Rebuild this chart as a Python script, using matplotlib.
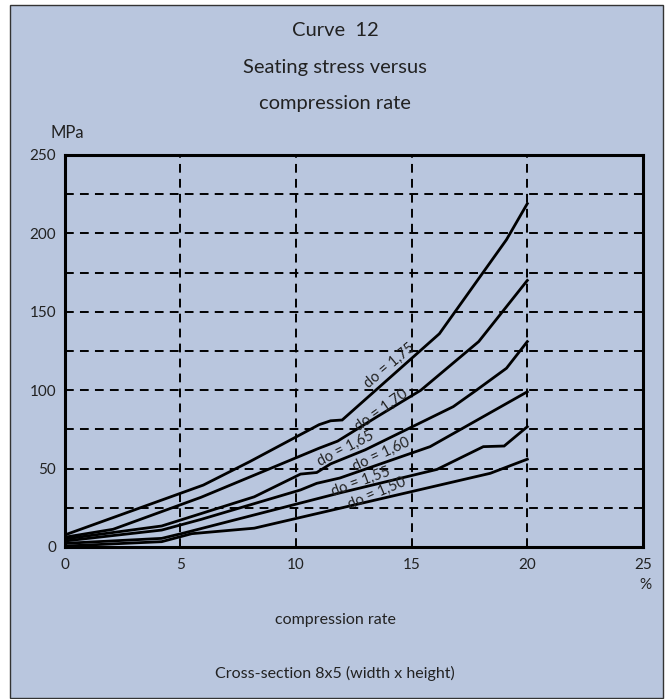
import matplotlib
matplotlib.use("Agg")
import matplotlib.pyplot as plt
from matplotlib.patches import Rectangle

plt.rcParams['font.family'] = ['Lato', 'DejaVu Sans']

# ---- data ----
x175 = [0, 6, 8, 11, 11.5, 12, 16.2, 19.1, 20]
y175 = [7.6, 39.5, 54.4, 78, 80.5, 81, 136, 196, 219]

x170 = [0, 2.1, 5.9, 11.0, 11.8, 13.5, 15.4, 17.9, 20]
y170 = [6.2, 11.3, 31.7, 63, 67.5, 83, 100, 131, 170]

x165 = [0, 4.2, 8.2, 10.2, 10.9, 11.5, 13.0, 16.8, 17.8, 19.1, 20]
y165 = [5.1, 13.4, 32, 46.5, 47.5, 53, 62, 89.5, 100, 114, 131]

x160 = [0, 4.2, 5.9, 10.2, 10.9, 11.9, 15.8, 20]
y160 = [3.8, 10.8, 17.6, 36.4, 40.6, 44, 64, 99]

x155 = [0, 4.2, 5.1, 11.9, 16.1, 18.1, 19.0, 20]
y155 = [2.3, 5.5, 8.7, 34.5, 49.5, 64, 64.4, 76.7]

x150 = [0, 4.2, 5.5, 8.2, 18.4, 20]
y150 = [0.6, 3.4, 8.5, 12, 47, 56]

series = [(x175, y175), (x170, y170), (x165, y165),
          (x160, y160), (x155, y155), (x150, y150)]

labels = ["do = 1,75", "do = 1,70", "do = 1,65", "do = 1,60", "do = 1,55", "do = 1,50"]
label_x = [14.05, 13.7, 12.15, 13.7, 12.8, 13.5]
label_y = [115.4, 87.4, 63.0, 59.3, 41.7, 34.2]
label_rot = [40, 35.5, 27, 25, 20, 23]

xticks = [0, 5, 10, 15, 20, 25]
yticks = [0, 50, 100, 150, 200, 250]
ygrid = [25, 75, 125, 175, 225]

title_lines = ["Curve  12", "Seating stress versus", "compression rate"]
ylabel = "MPa"
xlabel = "compression rate"
unit_x = "%"
footer = "Cross-section 8x5 (width x height)"

bg = "#B9C6DE"
txt = "#222222"

W, H = 669, 699
fig = plt.figure(figsize=(W / 100, H / 100), dpi=100)
fig.patch.set_facecolor("white")

# panel
fig.patches.append(Rectangle((10 / W, 1 - 698 / H), 653 / W, 693 / H,
                             transform=fig.transFigure, facecolor=bg,
                             edgecolor="#333333", linewidth=1.0, zorder=-10))

ax = fig.add_axes([64.5 / W, 1 - 547 / H, (643 - 64.5) / W, (547 - 155) / H])
ax.set_zorder(1)
ax.set_facecolor(bg)
ax.set_xlim(0, 25)
ax.set_ylim(0, 250)
ax.set_xticks(xticks)
ax.set_yticks(yticks)
ax.set_yticks(ygrid, minor=True)
ax.set_xticklabels([str(v) for v in xticks])
ax.set_yticklabels([str(v) for v in yticks])
ax.tick_params(axis='both', which='both', length=0, labelsize=11, colors=txt)
ax.tick_params(axis='x', pad=8)
ax.tick_params(axis='y', pad=6)
dash = (0, (4.5, 3.2))
ax.grid(True, which='major', axis='x', color='black', linewidth=1.4, linestyle=dash)
ax.grid(True, which='both', axis='y', color='black', linewidth=1.4, linestyle=dash)
ax.set_axisbelow(True)
for s in ax.spines.values():
    s.set_linewidth(2.2)
    s.set_color('black')
    s.set_zorder(5)

for xs, ys in series:
    ax.plot(xs, ys, color='black', linewidth=2.0, solid_joinstyle='miter', zorder=3)

for t, lx, ly, r in zip(labels, label_x, label_y, label_rot):
    ax.text(lx, ly, t, rotation=r, rotation_mode='anchor', ha='center', va='center',
            fontsize=10.5, color=txt, zorder=4)

fig.text(335 / W, 1 - 31 / H, title_lines[0], ha='center', va='center', fontsize=14.5, color=txt)
fig.text(335 / W, 1 - 67 / H, title_lines[1], ha='center', va='center', fontsize=14.5, color=txt)
fig.text(335 / W, 1 - 103 / H, title_lines[2], ha='center', va='center', fontsize=14.5, color=txt)
fig.text(50 / W, 1 - 133 / H, ylabel, ha='left', va='center', fontsize=12, color=txt)
fig.text(645 / W, 1 - 585 / H, unit_x, ha='center', va='center', fontsize=11, color=txt)
fig.text(335 / W, 1 - 620 / H, xlabel, ha='center', va='center', fontsize=11.5, color=txt)
fig.text(335 / W, 1 - 673 / H, footer, ha='center', va='center', fontsize=11.5, color=txt)

fig.savefig("out.png", dpi=100, facecolor=fig.get_facecolor())
